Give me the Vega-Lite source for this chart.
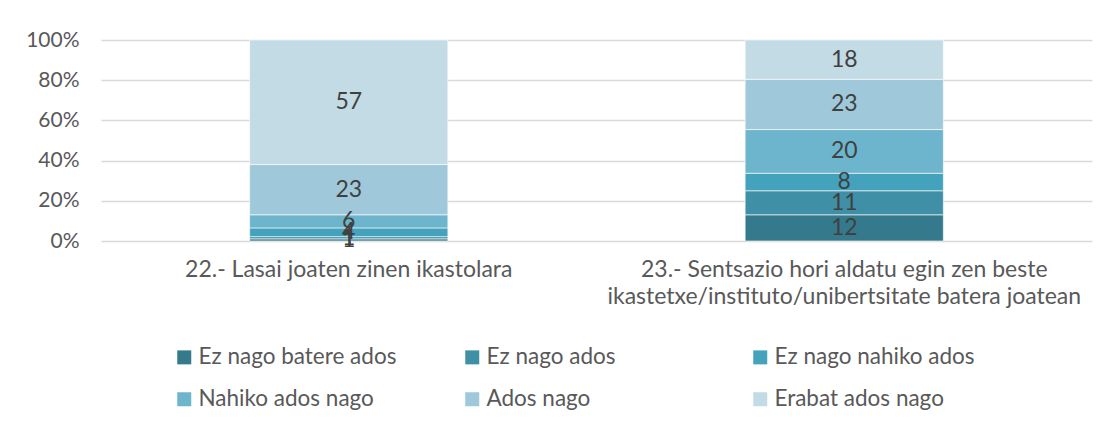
{
  "$schema": "https://vega.github.io/schema/vega-lite/v6.json",
  "width": 991,
  "height": 201,
  "autosize": {"type": "none"},
  "padding": {"left": 101, "top": 40, "right": 18, "bottom": 185},
  "background": "white",
  "config": {
    "font": "Lato",
    "view": {"stroke": null}
  },
  "data": {
    "values": [
      {"q": "22.- Lasai joaten zinen ikastolara", "cat": "Ez nago batere ados", "k": 1, "n": 1},
      {"q": "22.- Lasai joaten zinen ikastolara", "cat": "Ez nago ados", "k": 2, "n": 1},
      {"q": "22.- Lasai joaten zinen ikastolara", "cat": "Ez nago nahiko ados", "k": 3, "n": 4},
      {"q": "22.- Lasai joaten zinen ikastolara", "cat": "Nahiko ados nago", "k": 4, "n": 6},
      {"q": "22.- Lasai joaten zinen ikastolara", "cat": "Ados nago", "k": 5, "n": 23},
      {"q": "22.- Lasai joaten zinen ikastolara", "cat": "Erabat ados nago", "k": 6, "n": 57},
      {"q": "23.- Sentsazio hori aldatu egin zen beste\nikastetxe/instituto/unibertsitate batera joatean", "cat": "Ez nago batere ados", "k": 1, "n": 12},
      {"q": "23.- Sentsazio hori aldatu egin zen beste\nikastetxe/instituto/unibertsitate batera joatean", "cat": "Ez nago ados", "k": 2, "n": 11},
      {"q": "23.- Sentsazio hori aldatu egin zen beste\nikastetxe/instituto/unibertsitate batera joatean", "cat": "Ez nago nahiko ados", "k": 3, "n": 8},
      {"q": "23.- Sentsazio hori aldatu egin zen beste\nikastetxe/instituto/unibertsitate batera joatean", "cat": "Nahiko ados nago", "k": 4, "n": 20},
      {"q": "23.- Sentsazio hori aldatu egin zen beste\nikastetxe/instituto/unibertsitate batera joatean", "cat": "Ados nago", "k": 5, "n": 23},
      {"q": "23.- Sentsazio hori aldatu egin zen beste\nikastetxe/instituto/unibertsitate batera joatean", "cat": "Erabat ados nago", "k": 6, "n": 18}
    ]
  },
  "transform": [
    {"stack": "n", "groupby": ["q"], "sort": [{"field": "k", "order": "ascending"}], "as": ["y0", "y1"], "offset": "normalize"},
    {"calculate": "(datum.y0 + datum.y1) / 2", "as": "ymid"}
  ],
  "encoding": {
    "x": {
      "field": "q",
      "type": "nominal",
      "sort": null,
      "scale": {"paddingInner": 0.6, "paddingOuter": 0.3},
      "axis": {
        "title": null,
        "labelAngle": 0,
        "labelFontSize": 23,
        "labelColor": "#595959",
        "labelExpr": "split(datum.label, '\\n')",
        "labelLineHeight": 27,
        "labelPadding": 28,
        "labelBaseline": "middle",
        "ticks": false,
        "domain": false,
        "labelLimit": 700
      }
    }
  },
  "layer": [
    {
      "mark": {"type": "bar", "stroke": "white", "strokeWidth": 0.6},
      "encoding": {
        "y": {
          "field": "y0",
          "type": "quantitative",
          "scale": {"domain": [0, 1]},
          "axis": {
            "title": null,
            "format": ".0%",
            "values": [0, 0.2, 0.4, 0.6, 0.8, 1],
            "labelFontSize": 21,
            "labelColor": "#595959",
            "labelPadding": 22,
            "ticks": false,
            "domain": false,
            "grid": true,
            "gridColor": "#d9d9d9",
            "gridWidth": 1.5
          }
        },
        "y2": {"field": "y1"},
        "color": {
          "field": "cat",
          "type": "nominal",
          "sort": ["Ez nago batere ados", "Ez nago ados", "Ez nago nahiko ados", "Nahiko ados nago", "Ados nago", "Erabat ados nago"],
          "scale": {
            "domain": ["Ez nago batere ados", "Ez nago ados", "Ez nago nahiko ados", "Nahiko ados nago", "Ados nago", "Erabat ados nago"],
            "range": ["#357a8c", "#3f8fa6", "#45a2bd", "#6db5cd", "#9fc9da", "#c3dbe4"]
          },
          "legend": {
            "title": null,
            "orient": "none",
            "legendX": 72,
            "legendY": 306,
            "direction": "horizontal",
            "columns": 3,
            "gridAlign": "all",
            "columnPadding": 62,
            "rowPadding": 19,
            "symbolType": "square",
            "symbolSize": 196,
            "symbolStrokeWidth": 0,
            "labelFontSize": 22.5,
            "labelColor": "#595959",
            "labelOffset": 3,
            "labelLimit": 400
          }
        }
      }
    },
    {
      "mark": {"type": "text", "fontSize": 23, "color": "#404040", "baseline": "middle", "align": "center"},
      "encoding": {
        "y": {"field": "ymid", "type": "quantitative"},
        "text": {"field": "n", "type": "quantitative"}
      }
    }
  ]
}
